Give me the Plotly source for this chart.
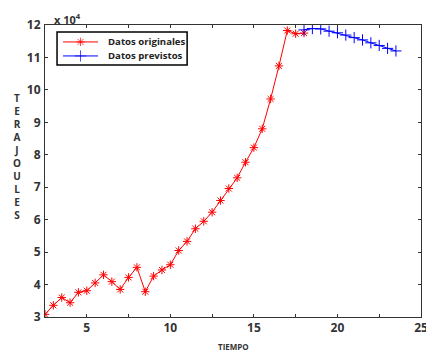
import plotly.graph_objects as go

# Data (values in units of 1e4 TJ)
x_orig = [2.5, 3, 3.5, 4, 4.5, 5, 5.5, 6, 6.5, 7, 7.5, 8, 8.5, 9, 9.5, 10,
          10.5, 11, 11.5, 12, 12.5, 13, 13.5, 14, 14.5, 15, 15.5, 16, 16.5,
          17, 17.5, 18]
y_orig = [3.08, 3.36, 3.60, 3.44, 3.76, 3.81, 4.05, 4.30, 4.09, 3.85, 4.22,
          4.53, 3.78, 4.26, 4.45, 4.61, 5.05, 5.33, 5.72, 5.95, 6.23, 6.59,
          6.96, 7.29, 7.77, 8.22, 8.80, 9.72, 10.74, 11.83, 11.73, 11.75]
x_prev = [18, 18.5, 19, 19.5, 20, 20.5, 21, 21.5, 22, 22.5, 23, 23.5]
y_prev = [11.85, 11.89, 11.88, 11.81, 11.76, 11.69, 11.61, 11.54, 11.45,
          11.37, 11.28, 11.20]

x_ticks = [5, 10, 15, 20, 25]
y_ticks = [3, 4, 5, 6, 7, 8, 9, 10, 11, 12]

series_names = ["Datos originales", "Datos previstos"]
series_colors = ["#ff0000", "#0000ff"]
series_symbols = ["asterisk-open", "cross-thin-open"]
series_sizes = [7, 8]

FONT = "Open Sans"

fig = go.Figure()
for xs, ys, name, col, sym, sz in zip([x_orig, x_prev], [y_orig, y_prev],
                                      series_names, series_colors,
                                      series_symbols, series_sizes):
    fig.add_trace(go.Scatter(
        x=xs, y=ys, mode="lines+markers", name=name, showlegend=False,
        line=dict(color=col, width=1),
        marker=dict(symbol=sym, size=sz, color=col,
                    line=dict(color=col, width=1)),
    ))

# Compact MATLAB-style legend drawn on an overlay axis (0..1 box units)
LX0, LX1, LY0, LY1 = 0.032, 0.378, 0.863, 0.976
entry_y = [0.942, 0.894]
fig.add_shape(type="rect", xref="paper", yref="paper",
              x0=LX0, x1=LX1, y0=LY0, y1=LY1,
              line=dict(color="#000000", width=1.5), fillcolor="white",
              layer="below")
for ey, name, col, sym, sz in zip(entry_y, series_names, series_colors,
                                  series_symbols, series_sizes):
    fig.add_trace(go.Scatter(
        x=[0.048, 0.0945, 0.141], y=[ey, ey, ey], xaxis="x2", yaxis="y2",
        mode="lines+markers", showlegend=False, hoverinfo="skip",
        line=dict(color=col, width=1),
        marker=dict(symbol=sym, size=[0, sz, 0], color=col,
                    line=dict(color=col, width=1)),
    ))
    fig.add_annotation(text=name, xref="paper", yref="paper", x=0.162,
                       y=ey, xanchor="left", yanchor="middle",
                       showarrow=False,
                       font=dict(family=FONT, size=9.6, color="#222222",
                                 weight="bold"))

axis_common = dict(
    showgrid=False, zeroline=False, showline=True, linecolor="#333333",
    linewidth=1, mirror="ticks", ticks="inside", ticklen=3,
    tickcolor="#333333", automargin=False, ticklabeloverflow="allow",
    tickfont=dict(family=FONT, size=12, color="#333333", weight="bold"),
)

fig.update_layout(
    xaxis=dict(range=[2.5, 25], tickvals=x_ticks,
               minor=dict(ticks="inside", dtick=2.5, tick0=0, ticklen=3,
                          tickcolor="#333333"),
               **axis_common),
    yaxis=dict(range=[3, 12], tickvals=y_ticks, ticklabelstandoff=1,
               **axis_common),
    xaxis2=dict(range=[0, 1], overlaying="x", visible=False),
    yaxis2=dict(range=[0, 1], overlaying="y", visible=False),
    width=426, height=354,
    margin=dict(l=45, r=5, t=25, b=37),
    paper_bgcolor="white", plot_bgcolor="white",
    showlegend=False,
)

fig.add_annotation(text="x 10<sup>4</sup>", xref="paper", yref="paper",
                   x=0.018, y=1.0, xanchor="left", yanchor="bottom",
                   yshift=-4, showarrow=False,
                   font=dict(family=FONT, size=11, color="#333333",
                             weight="bold"))
fig.add_annotation(text="TIEMPO", xref="paper", yref="paper", x=0.5,
                   y=-0.1, xanchor="center", yanchor="middle",
                   showarrow=False,
                   font=dict(family=FONT, size=8, color="#333333",
                             weight="bold"))
fig.add_annotation(text="<br>".join(list("TERAJOULES")), xref="paper",
                   yref="paper", x=-0.075, y=0.548, xanchor="center",
                   yanchor="middle", showarrow=False,
                   font=dict(family=FONT, size=10, color="#333333",
                             weight="bold"))

fig.write_html("out.html", config={"displayModeBar": False},
               post_script="document.body.style.margin='0';")
